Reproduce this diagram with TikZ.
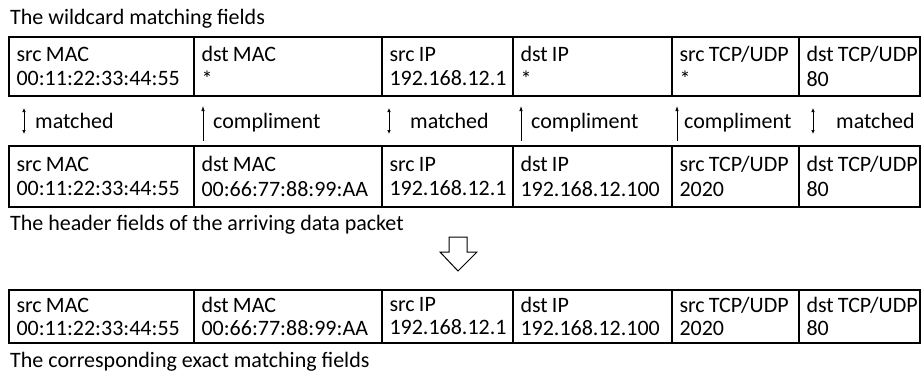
\documentclass[tikz,border=0pt]{standalone}
\usepackage{fontspec}
\setmainfont{Carlito}
\usetikzlibrary{arrows.meta}
\newcommand{\fieldtext}[2]{\spaceskip=4.2pt\mbox{#1}\\\mbox{#2}}
\tikzset{
  cell/.style={draw, line width=1.1pt, anchor=north west, inner xsep=7.5pt, inner ysep=0pt,
    outer sep=0pt, align=left, minimum height=#1, font=\fontsize{22}{24.5}\selectfont},
  cell/.default=59pt,
  tightcell/.style={cell=53pt, font=\fontsize{22}{23}\selectfont},
  caption/.style={anchor=base west, inner sep=0pt, font=\fontsize{22}{24}\selectfont},
  tag/.style={anchor=base west, inner sep=0pt, font=\fontsize{22}{24}\selectfont},
  both/.style={line width=0.7pt, {Latex[length=4pt,width=3.5pt]}-{Latex[length=4pt,width=3.5pt]}},
  upward/.style={line width=0.7pt, -{Latex[length=5pt,width=3.5pt]}},
  bigarrow/.style={draw, line width=1pt, fill=white}
}
\begin{document}
\begin{tikzpicture}[x=1pt,y=-1pt]
\useasboundingbox (0,0) rectangle (923,373);

% captions
\node[caption] (capw) at (10,24) {The wildcard matching fields};
\node[caption] (caph) at (10,230) {The header fields of the arriving data packet};
\node[caption] (cape) at (10,367) {The corresponding exact matching fields};

% wildcard matching fields
\node[cell, text width=170pt] (w1) at (9,37)   {\fieldtext{src MAC}{00:11:22:33:44:55}};
\node[cell, text width=173pt] (w2) at (w1.north east) {\fieldtext{dst MAC}{*}};
\node[cell, text width=116pt] (w3) at (w2.north east) {\fieldtext{src IP}{192.168.12.1}};
\node[cell, text width=144pt] (w4) at (w3.north east) {\fieldtext{dst IP}{*}};
\node[cell, text width=112pt] (w5) at (w4.north east) {\fieldtext{src TCP/UDP}{*}};
\node[cell, text width=106pt] (w6) at (w5.north east) {\fieldtext{dst TCP/UDP}{80}};

% header fields of the arriving packet
\node[cell=61pt, text width=170pt] (h1) at (9,146) {\fieldtext{src MAC}{00:11:22:33:44:55}};
\node[cell=61pt, text width=173pt] (h2) at (h1.north east) {\fieldtext{dst MAC}{00:66:77:88:99:AA}};
\node[cell=61pt, text width=116pt] (h3) at (h2.north east) {\fieldtext{src IP}{192.168.12.1}};
\node[cell=61pt, text width=144pt] (h4) at (h3.north east) {\fieldtext{dst IP}{192.168.12.100}};
\node[cell=61pt, text width=112pt] (h5) at (h4.north east) {\fieldtext{src TCP/UDP}{2020}};
\node[cell=61pt, text width=106pt] (h6) at (h5.north east) {\fieldtext{dst TCP/UDP}{80}};

% exact matching fields
\node[tightcell, text width=170pt] (e1) at (9,290) {\fieldtext{src MAC}{00:11:22:33:44:55}};
\node[tightcell, text width=173pt] (e2) at (e1.north east) {\fieldtext{dst MAC}{00:66:77:88:99:AA}};
\node[tightcell, text width=116pt] (e3) at (e2.north east) {\fieldtext{src IP}{192.168.12.1}};
\node[tightcell, text width=144pt] (e4) at (e3.north east) {\fieldtext{dst IP}{192.168.12.100}};
\node[tightcell, text width=112pt] (e5) at (e4.north east) {\fieldtext{src TCP/UDP}{2020}};
\node[tightcell, text width=106pt] (e6) at (e5.north east) {\fieldtext{dst TCP/UDP}{80}};

% match labels between the two upper tables
\node[tag] (t1) at (35,128)  {matched};
\node[tag] (t2) at (213,128) {compliment};
\node[tag] (t3) at (410,128) {matched};
\node[tag] (t4) at (531,128) {compliment};
\node[tag] (t5) at (684,128) {compliment};
\node[tag] (t6) at (836,128) {matched};

\draw[both]   (24,108)  -- (24,134);
\draw[upward] (203,141) -- (203,106);
\draw[both]   (389,108) -- (389,134);
\draw[upward] (521,141) -- (521,106);
\draw[upward] (677,141) -- (677,106);
\draw[both]   (813,108) -- (813,134);

% conversion arrow
\draw[bigarrow] (449,237) -- (467,237) -- (467,252) -- (477,252) -- (458,271)
  -- (440,252) -- (449,252) -- cycle;
\end{tikzpicture}
\end{document}
